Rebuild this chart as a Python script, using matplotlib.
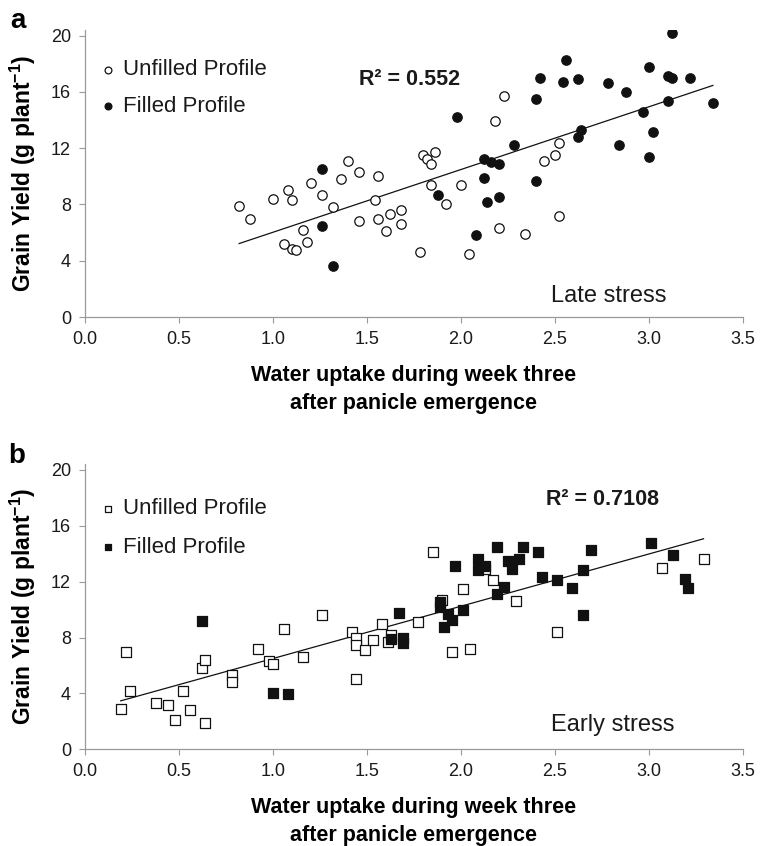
import numpy as np
import matplotlib
matplotlib.use('Agg')
import matplotlib.pyplot as plt

plt.rcParams['font.family'] = ['Liberation Sans', 'DejaVu Sans']
plt.rcParams['mathtext.fontset'] = 'custom'
plt.rcParams['mathtext.rm'] = 'Liberation Sans'
plt.rcParams['mathtext.bf'] = 'Liberation Sans:bold'

# Panel a - late stress (circles)
late_open_x = [0.82, 0.88, 1.00, 1.08, 1.10, 1.06, 1.10, 1.12, 1.16, 1.18, 1.20, 1.26, 1.32, 1.36,
               1.40, 1.46, 1.46, 1.54, 1.56, 1.56, 1.60, 1.62, 1.68, 1.68, 1.78, 1.80, 1.82, 1.84,
               1.86, 1.84, 1.92, 2.00, 2.04, 2.18, 2.23, 2.20, 2.34, 2.44, 2.50, 2.52, 2.52]
late_open_y = [7.9, 7.0, 8.4, 9.0, 8.3, 5.2, 4.8, 4.75, 6.2, 5.3, 9.5, 8.7, 7.8, 9.8,
               11.1, 10.3, 6.8, 8.3, 10.0, 7.0, 6.1, 7.3, 7.6, 6.6, 4.6, 11.5, 11.25, 10.9,
               11.7, 9.4, 8.0, 9.4, 4.5, 13.9, 15.7, 6.3, 5.9, 11.1, 11.5, 12.4, 7.2]
late_fill_x = [1.26, 1.26, 1.32, 1.88, 1.98, 2.08, 2.12, 2.12, 2.16, 2.20, 2.14, 2.20, 2.28,
               2.40, 2.42, 2.40, 2.54, 2.56, 2.62, 2.62, 2.64, 2.78, 2.84, 2.88, 2.97, 3.00,
               3.00, 3.02, 3.10, 3.12, 3.12, 3.10, 3.22, 3.34]
late_fill_y = [10.5, 6.5, 3.6, 8.7, 14.2, 5.8, 11.2, 9.9, 11.0, 10.9, 8.2, 8.5, 12.2,
               15.5, 17.0, 9.7, 16.7, 18.3, 16.9, 12.8, 13.3, 16.6, 12.2, 16.0, 14.6, 17.8,
               11.4, 13.15, 17.1, 17.0, 20.2, 15.35, 17.0, 15.2]

# Panel b - early stress (squares)
early_open_x = [0.19, 0.22, 0.24, 0.38, 0.44, 0.48, 0.52, 0.56, 0.62, 0.64, 0.64, 0.78, 0.78,
                0.92, 0.98, 1.00, 1.06, 1.16, 1.26, 1.42, 1.44, 1.44, 1.49, 1.53, 1.44, 1.58,
                1.61, 1.63, 1.77, 1.85, 1.90, 1.95, 2.01, 2.05, 2.13, 2.17, 2.29, 2.51, 3.07, 3.29]
early_open_y = [2.9, 7.0, 4.2, 3.3, 3.2, 2.1, 4.2, 2.8, 5.8, 6.4, 1.9, 5.3, 4.8,
                7.2, 6.3, 6.1, 8.6, 6.6, 9.6, 8.4, 8.0, 7.5, 7.1, 7.8, 5.0, 8.95,
                7.7, 8.2, 9.1, 14.1, 10.7, 7.0, 11.5, 7.2, 12.9, 12.1, 10.6, 8.4, 12.95, 13.6]
early_fill_x = [0.62, 1.00, 1.08, 1.63, 1.69, 1.69, 1.67, 1.89, 1.89, 1.93, 1.95, 1.91, 1.97,
                2.01, 2.09, 2.09, 2.13, 2.19, 2.19, 2.23, 2.25, 2.27, 2.31, 2.33, 2.41, 2.43,
                2.51, 2.59, 2.65, 2.65, 2.69, 3.01, 3.13, 3.19, 3.21]
early_fill_y = [9.2, 4.0, 3.95, 7.9, 7.95, 7.6, 9.75, 10.55, 10.2, 9.65, 9.25, 8.75, 13.1,
                9.95, 13.6, 12.8, 13.1, 14.5, 11.1, 11.6, 13.45, 12.9, 13.6, 14.5, 14.1, 12.3,
                12.1, 11.55, 12.8, 9.6, 14.3, 14.8, 13.9, 12.2, 11.55]

x_ticks = [0.0, 0.5, 1.0, 1.5, 2.0, 2.5, 3.0, 3.5]
y_ticks = [0, 4, 8, 12, 16, 20]
legend_labels = ["Unfilled Profile", "Filled Profile"]
r2_labels = ["R² = 0.552", "R² = 0.7108"]
stress_labels = ["Late stress", "Early stress"]
panel_labels = ["a", "b"]

W, H = 771, 846
fig = plt.figure(figsize=(W / 100, H / 100), dpi=100)

# axes rectangles in pixels: (left, top, right, bottom)
rects = [(85, 30.0, 743, 317.0), (85, 464.3, 743, 749.3)]
panels = [
    (late_open_x, late_open_y, late_fill_x, late_fill_y, 'o', 46),
    (early_open_x, early_open_y, early_fill_x, early_fill_y, 's', 48),
]
r2_pos = [(0.494, 0.826), (0.787, 0.875)]
stress_pos = [(0.796, 0.073), (0.802, 0.085)]
legend_pos = [(0.0266, 0.798), (0.0266, 0.7765)]
legend_spacing = [0.68, 0.77]
panel_label_px = [(10, 28), (8, 463)]

grey = '#9a9a9a'

for i, (ox, oy, fx, fy, mk, size) in enumerate(panels):
    l, t, r, b = rects[i]
    ax = fig.add_axes([l / W, 1 - b / H, (r - l) / W, (b - t) / H])

    ax.scatter(ox, oy, s=size, marker=mk, facecolor='white', edgecolor='#111111',
               linewidth=0.9, zorder=3, label=legend_labels[0])
    ax.scatter(fx, fy, s=size, marker=mk, facecolor='#111111', edgecolor='#111111',
               linewidth=0.9, zorder=4, label=legend_labels[1])

    # linear trend over all points
    all_x = np.array(ox + fx)
    all_y = np.array(oy + fy)
    slope, icpt = np.polyfit(all_x, all_y, 1)
    xl = np.array([all_x.min(), all_x.max()])
    ax.plot(xl, slope * xl + icpt, color='#111111', linewidth=0.9, zorder=2)

    ax.set_xlim(0, 3.5)
    ax.set_ylim(0, 20.4)
    ax.set_xticks(x_ticks)
    ax.set_xticklabels(["%.1f" % v for v in x_ticks])
    ax.set_yticks(y_ticks)
    ax.tick_params(axis='both', direction='out', length=4, width=0.8, color=grey,
                   labelsize=13, labelcolor='#1a1a1a', pad=6)

    for side in ['top', 'right']:
        ax.spines[side].set_visible(False)
    for side in ['left', 'bottom']:
        ax.spines[side].set_color(grey)
        ax.spines[side].set_linewidth(0.9)

    ax.set_ylabel("Grain Yield (g plant$^{\\mathbf{-1}}$)", fontsize=16.5, fontweight='bold',
                  labelpad=9)
    ax.set_xlabel("Water uptake during week three\nafter panicle emergence", fontsize=15.5,
                  fontweight='bold', labelpad=12, linespacing=1.45)

    ax.text(*r2_pos[i], r2_labels[i], transform=ax.transAxes, ha='center', va='center',
            fontsize=15.5, fontweight='bold', color='#1a1a1a')
    ax.text(*stress_pos[i], stress_labels[i], transform=ax.transAxes, ha='center',
            va='center', fontsize=17, color='#1a1a1a')

    leg = ax.legend(loc='center left', bbox_to_anchor=legend_pos[i], frameon=False,
                    fontsize=16, handlelength=0.5, handletextpad=0.42, borderpad=0,
                    borderaxespad=0, labelspacing=legend_spacing[i], markerscale=0.72,
                    scatterpoints=1)
    for txt in leg.get_texts():
        txt.set_color('#1a1a1a')

    px, py = panel_label_px[i]
    fig.text(px / W, 1 - py / H, panel_labels[i], fontsize=20, fontweight='bold',
             ha='left', va='baseline')

fig.savefig('out.png', dpi=100)
plt.close(fig)
